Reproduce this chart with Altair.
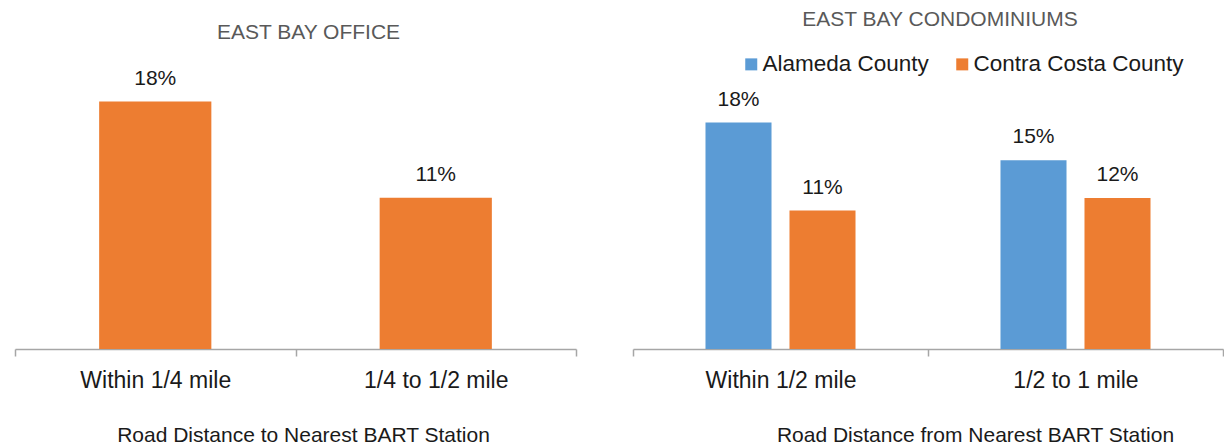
import altair as alt
import pandas as pd

# Office: share by road distance to the nearest BART station
office_bands = ["Within 1/4 mile", "1/4 to 1/2 mile"]
office_share = [18, 11]

# Condominiums: share by county and road distance from the nearest BART station
condo_bands = ["Within 1/2 mile", "1/2 to 1 mile"]
counties = ["Alameda County", "Contra Costa County"]
alameda_share = [18, 15]
contra_costa_share = [11, 12]

BLUE = "#5B9BD5"
ORANGE = "#ED7D31"
INK = "#1a1a1a"
GREY_TITLE = "#595959"
AXIS_GREY = "#A6A6A6"
FONT = "Liberation Sans"
H = 275

office = pd.DataFrame({"band": office_bands, "share": office_share})
condo = pd.DataFrame({
    "band": condo_bands * 2,
    "county": [counties[0]] * len(condo_bands) + [counties[1]] * len(condo_bands),
    "share": alameda_share + contra_costa_share,
})


def band_axis(title, title_x):
    return alt.Axis(
        title=title, titleX=title_x, titleFont=FONT, titleFontSize=21,
        titleFontWeight="normal", titleColor=INK, titlePadding=32,
        labelAngle=0, labelFont=FONT, labelFontSize=23, labelColor=INK,
        labelPadding=13, domainColor=AXIS_GREY, domainWidth=1.5,
        tickColor=AXIS_GREY, tickWidth=1.5, tickSize=7, tickBand="extent",
        grid=False,
    )


def panel_title(text, offset, dx):
    return alt.TitleParams(
        text, font=FONT, fontSize=21, fontWeight="normal", color=GREY_TITLE,
        anchor="middle", offset=offset, dx=dx,
    )


# Left panel: East Bay office
ox = alt.X("band:N", sort=office_bands,
           scale=alt.Scale(paddingInner=0, paddingOuter=0),
           axis=band_axis("Road Distance to Nearest BART Station", 288))
oy = alt.Y("share:Q", scale=alt.Scale(domain=[0, 20], nice=False), axis=None)

office_base = alt.Chart(office).transform_calculate(label="datum.share + '%'")
office_bars = office_base.mark_bar(
    color=ORANGE, width=alt.RelativeBandSize(0.4)
).encode(x=ox, y=oy)
office_text = office_base.mark_text(
    dy=-17, baseline="alphabetic", font=FONT, fontSize=21, color=INK
).encode(x=ox, y=oy, text="label:N")

left = alt.layer(office_bars, office_text).properties(
    width=561, height=H, title=panel_title("EAST BAY OFFICE", 25, 13)
)

# Right panel: East Bay condominiums, grouped by county
cx = alt.X("band:N", sort=condo_bands,
           scale=alt.Scale(paddingInner=0, paddingOuter=0),
           axis=band_axis("Road Distance from Nearest BART Station", 342))
cy = alt.Y("share:Q", scale=alt.Scale(domain=[0, 21.86], nice=False), axis=None)
coff = alt.XOffset("county:N", sort=counties,
                   scale=alt.Scale(paddingInner=0.214, paddingOuter=0.863))
ccol = alt.Color(
    "county:N", sort=counties,
    scale=alt.Scale(domain=counties, range=[BLUE, ORANGE]),
    legend=alt.Legend(
        title=None, orient="none", legendX=107, legendY=-21,
        direction="horizontal", symbolType="square", symbolSize=144,
        symbolStrokeWidth=0, labelFont=FONT, labelFontSize=22.5,
        labelColor=INK, labelOffset=0, labelLimit=400, columnPadding=22,
    ),
)

condo_base = alt.Chart(condo).transform_calculate(label="datum.share + '%'")
condo_bars = condo_base.mark_bar().encode(x=cx, y=cy, xOffset=coff, color=ccol)
condo_text = condo_base.mark_text(
    dy=-17, baseline="alphabetic", font=FONT, fontSize=21, color=INK
).encode(x=cx, y=cy, xOffset=coff, text="label:N")

right = alt.layer(condo_bars, condo_text).properties(
    width=590, height=H, title=panel_title("EAST BAY CONDOMINIUMS", 23, 12)
)

chart = (
    alt.hconcat(left, right, spacing=55)
    .resolve_scale(color="independent")
    .resolve_legend(color="independent")
    .properties(
        background="white",
        padding={"left": 14, "top": 9, "right": 0, "bottom": 0},
    )
    .configure_view(strokeWidth=0)
)

chart.save("out.html", embed_options={"renderer": "svg", "actions": False})
